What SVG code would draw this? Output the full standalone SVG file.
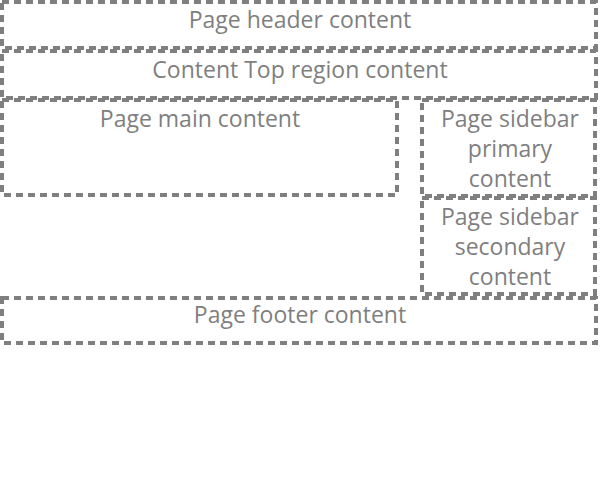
<svg xmlns="http://www.w3.org/2000/svg" width="600" height="480" viewBox="0 0 600 480">
<style>
.box{fill:none;stroke:#7f7f7f;stroke-width:4;stroke-dasharray:7 5}
.t{font-family:"Open Sans","Liberation Sans",sans-serif;font-size:23px;fill:#7f7f7f;text-anchor:middle}
</style>
<rect width="600" height="480" fill="#fff"/>
<g id="header"><rect class="box" x="2" y="2" width="594" height="46"/><text class="t" x="300" y="28">Page header content</text></g>
<g id="content-top"><rect class="box" x="2" y="51" width="594" height="47"/><text class="t" x="300" y="78">Content Top region content</text></g>
<g id="main"><rect class="box" x="2" y="100" width="395" height="95"/><text class="t" x="200" y="127">Page main content</text></g>
<g id="sidebar-primary"><rect class="box" x="422" y="100" width="173" height="96"/><text class="t" x="510" y="127">Page sidebar</text><text class="t" x="510" y="157">primary</text><text class="t" x="510" y="187">content</text></g>
<g id="sidebar-secondary"><rect class="box" x="422" y="198" width="173" height="96"/><text class="t" x="510" y="225">Page sidebar</text><text class="t" x="510" y="255">secondary</text><text class="t" x="510" y="285">content</text></g>
<g id="footer"><rect class="box" x="2" y="298" width="594" height="45"/><text class="t" x="300" y="323">Page footer content</text></g>
<g id="connectors"/>
</svg>
